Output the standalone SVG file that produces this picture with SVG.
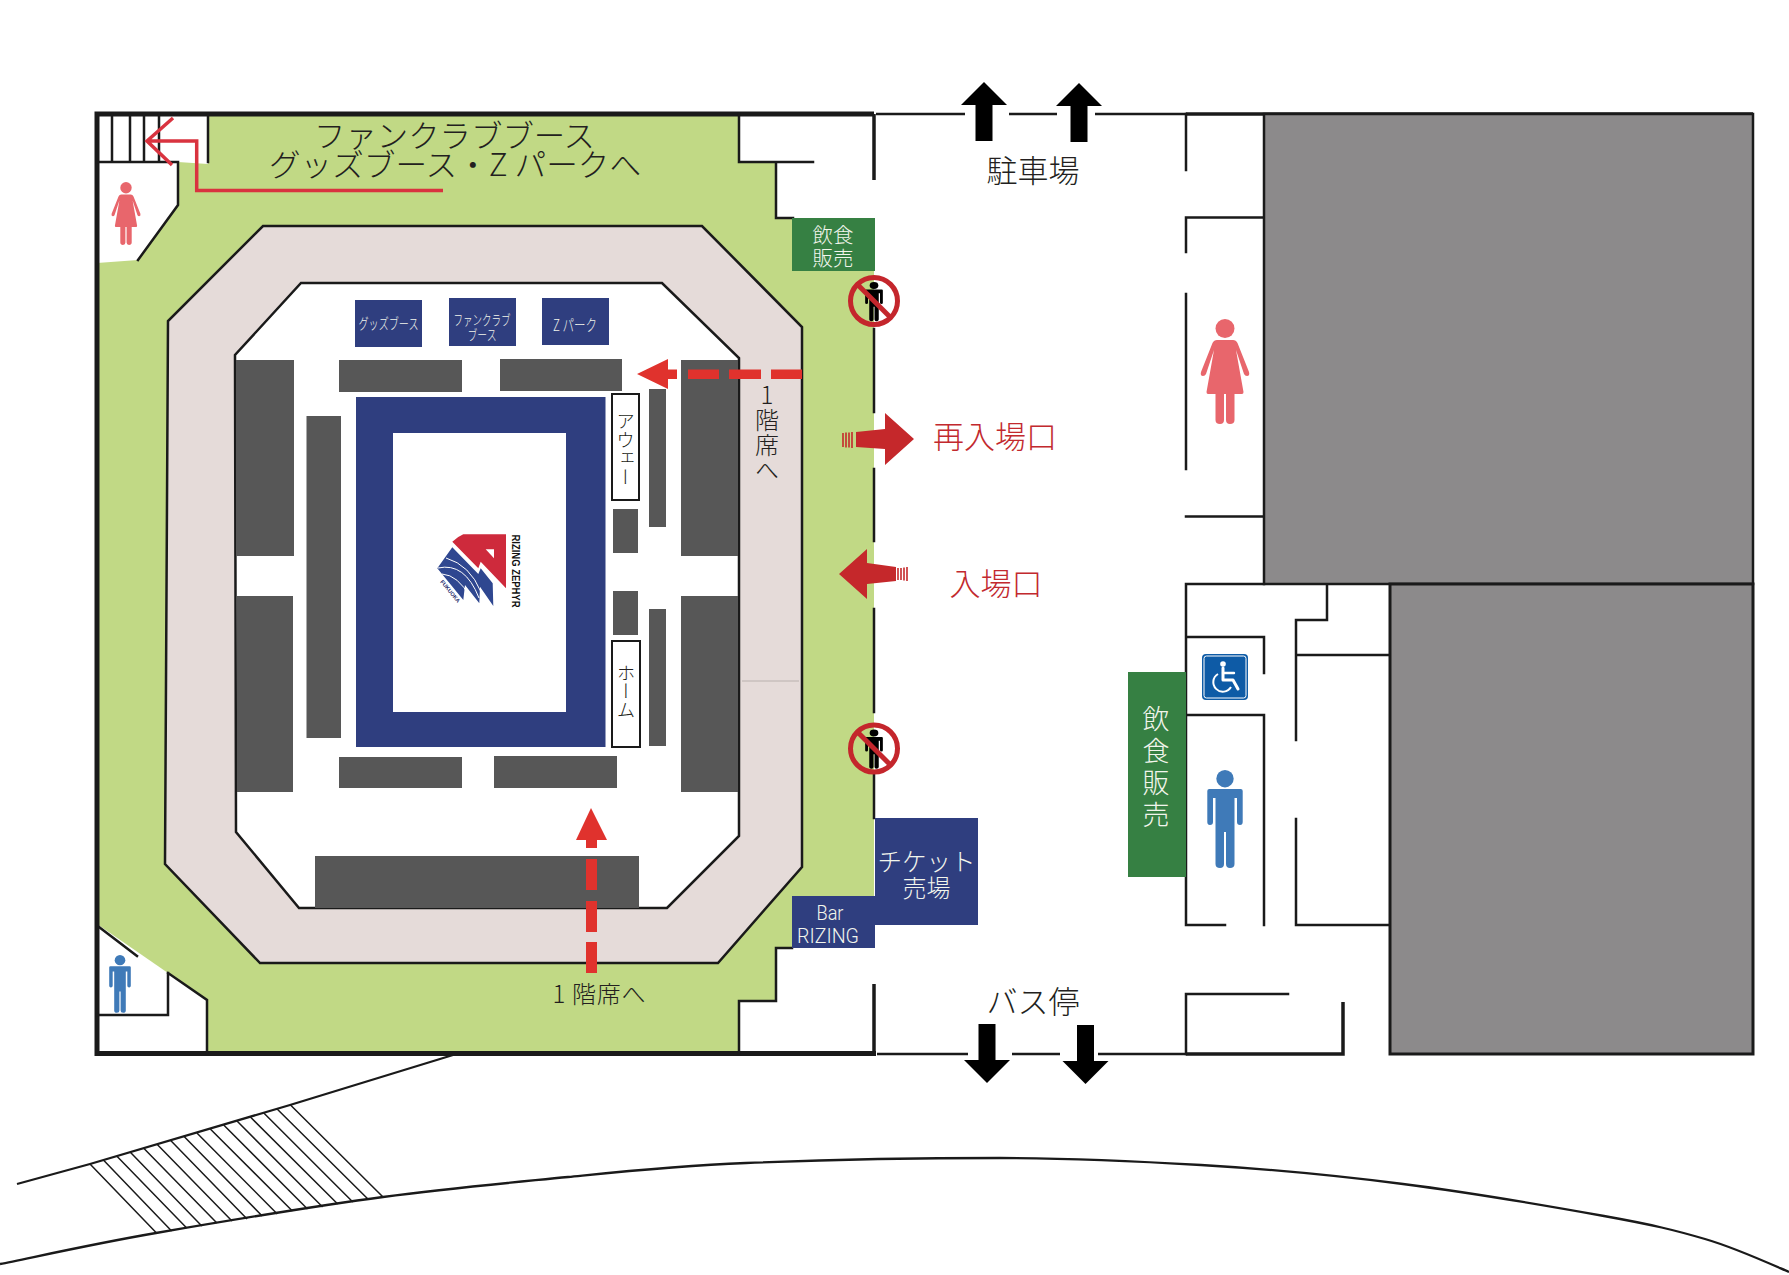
<svg xmlns="http://www.w3.org/2000/svg" width="1789" height="1275" viewBox="0 0 1789 1275">
<style>
text{font-family:"Noto Sans CJK JP","Liberation Sans",sans-serif;font-weight:300}
.t{fill:#231f20;text-anchor:middle}
.w{fill:#f2f5ec;text-anchor:middle}
.r{fill:#c2292e;text-anchor:middle;font-size:31px}
.v{writing-mode:vertical-rl;text-anchor:middle;fill:#231f20;font-size:18.5px}
.vu{writing-mode:vertical-rl;text-orientation:upright;text-anchor:middle}
.lat{font-family:Roboto,"Liberation Sans",sans-serif;font-weight:300}
.gr{fill:#575757}
.nv{fill:#2f3e7f}
.dg{fill:#368043}
.l{fill:none;stroke:#1a1a1a;stroke-width:2.5;stroke-linecap:square}
.b{fill:none;stroke:#1a1a1a;stroke-width:5}
.m{fill:none;stroke:#1a1a1a;stroke-width:3.5}
.th{fill:none;stroke:#1a1a1a;stroke-width:2.3}
.hatch{fill:none;stroke:#1a1a1a;stroke-width:1.5}
.red{fill:#e0322d}
.dr{fill:#c5282b}
.ka{fill:#000}
.rs{fill:none;stroke:#c5282b;stroke-width:1.6}
.ring{fill:none;stroke:#c4262c;stroke-width:5}
</style>
<defs>
<g id="man"><circle cx="0" cy="8.7" r="8.7"/><path d="M-15.7 19H15.7Q17.7 19 17.7 21V52Q17.7 55 15 55Q12 55 12 52V28H9.5V94Q9.5 98 5 98Q1 98 1 94V62H-1V94Q-1 98-5 98Q-9.500 98-9.500 94V28H-12V52Q-12 55-15 55Q-17.7 55-17.7 52V21Q-17.7 19-15.7 19Z"/></g>
<g id="woman"><circle cx="0" cy="9.5" r="9.5"/><path d="M-8 21H8Q11 21 12.500 24L24 53Q25 57 22 57Q20 57 19 55L11 31L18.500 73Q18.500 75 17 75H9.500V101Q9.500 105 5 105Q1 105 1 101V75H-1V101Q-1 105-5 105Q-9.500 105-9.500 101V75H-17Q-18.500 75-18.500 73L-11 31L-19 55Q-20 57-22 57Q-25 57-24 53L-12.500 24Q-11 21-8 21Z"/></g>
<g id="noentry"><use href="#man" transform="translate(0,-19) scale(.5,.4)" fill="#000"/><line x1="-17" y1="-17" x2="17" y2="17" stroke="#c4262c" stroke-width="5"/><circle class="ring" r="23.5"/></g>
<path id="uparrow" d="M0 0L23 23H8.5V59H-8.5V23H-23Z"/>
</defs>
<rect width="1789" height="1275" fill="#fff"/>

<g id="terrain">
<polyline class="th" points="453,1055 290,1105 90,1164 17,1184"/>
<path class="th" d="M0 1264C26 1259 92 1244 156 1233C220 1222 314 1206 383 1197C452 1188 508 1183 568 1177C628 1171 674 1166 746 1163C818 1160 924 1158 1000 1158C1076 1158 1134 1161 1201 1165C1268 1169 1336 1175.500 1403 1184C1470 1192.500 1554 1207 1604 1216C1654 1225 1674 1230 1705 1239C1736 1248 1775 1266 1789 1272"/>
<path class="hatch" d="M90 1164L156.500 1233M103.400 1160L171.600 1231M116.700 1156L186.700 1228M130.100 1152L201.800 1226M143.500 1148L216.900 1223M156.800 1144L232 1221M170.200 1140L247.100 1219M183.600 1136L262.200 1216M196.900 1133L277.300 1214M210.300 1129L292.400 1211M223.700 1125L307.500 1209M237 1121L322.600 1207M250.400 1117L337.700 1204M263.800 1113L352.800 1202M277.100 1109L367.900 1199M290.500 1105L383 1197"/>
</g>

<g id="grounds">
<rect x="97" y="114" width="777" height="939" fill="#c1d985"/>
<polygon points="97,114 208,114 208,164 178,162 178,205 138,260 97,263" fill="#fff"/>
<polygon points="97,924 168,973 207,1000 207,1053 97,1053" fill="#fff"/>
<polygon points="739,114 739,162 776,162 776,218 874,218 874,114" fill="#fff"/>
<polygon points="739,1053 739,1001 776,1001 776,948 874,948 874,1053" fill="#fff"/>
</g>

<g id="concourse">
<polygon points="263,226 702,226 802,327 802,867 718,963 260,963 165,864 168,321" fill="#e5dbd9" stroke="#1a1a1a" stroke-width="2.500"/>
<line x1="742" y1="681" x2="799" y2="681" stroke="#b9b1ae" stroke-width="1"/>
<polygon points="301,283 662,283 739,358 739,836 667,908 299,908 236,832 235,355" fill="#fff" stroke="#1a1a1a" stroke-width="2.500"/>
</g>

<g id="seating">
<rect class="gr" x="236" y="360" width="58" height="196"/>
<rect class="gr" x="237" y="596" width="56" height="196"/>
<rect class="gr" x="306.500" y="416" width="34.500" height="322"/>
<rect class="gr" x="339" y="360" width="123" height="32"/>
<rect class="gr" x="500" y="359" width="122" height="32"/>
<rect class="gr" x="339" y="757" width="123" height="31"/>
<rect class="gr" x="494" y="756" width="123" height="32"/>
<rect class="gr" x="315" y="856" width="324" height="52"/>
<rect class="gr" x="681" y="360" width="57" height="196"/>
<rect class="gr" x="681" y="596" width="57" height="196"/>
<rect class="gr" x="649" y="389" width="17" height="138"/>
<rect class="gr" x="649" y="609" width="17" height="137"/>
<rect class="gr" x="613" y="509" width="25" height="44"/>
<rect class="gr" x="613" y="591" width="25" height="44"/>
</g>

<g id="court">
<path class="nv" fill-rule="evenodd" d="M356 397H605.500V747H356ZM393 433V712H566V433Z"/>
</g>

<g id="logo">
<path d="M452.300 541.700Q458 536.500 463.300 534.300H506V588.300L480.700 561.700L478.300 568.300Z" fill="#ce2a3c"/>
<path d="M485.700 549.300H494V558.300Z" fill="#fff"/>
<path d="M452.300 547.300L478.300 574L480.700 568.300L492.700 583.300L493.300 606L480 586.700L479.300 603.300L465 585L463.300 600L437.300 568.300Z" fill="#2f4790"/>
<path d="M438 568Q465 562 479 598M442 574Q458 575 470 597M446 558Q470 565 481 592" fill="none" stroke="#fff" stroke-width="1"/>
<text transform="translate(440,582) rotate(50)" font-size="5.500" fill="#1d2a6b" style="font-family:'Liberation Sans',sans-serif;font-weight:700">FUKUOKA</text>
<text transform="translate(512,534.500) rotate(90)" font-size="11" textLength="73" lengthAdjust="spacingAndGlyphs" fill="#111" style="font-family:'Liberation Sans',sans-serif;font-weight:700">RIZING ZEPHYR</text>
</g>

<g id="away"><rect x="612" y="394" width="27" height="106" fill="#fff" stroke="#1a1a1a" stroke-width="2"/><text class="v" x="625.500" y="449">アウェー</text></g>
<g id="home"><rect x="612" y="641" width="28" height="106" fill="#fff" stroke="#1a1a1a" stroke-width="2"/><text class="v" x="626" y="691">ホーム</text></g>

<g id="booth-goods"><rect class="nv" x="355" y="300" width="67" height="47"/><text class="w" x="388.500" y="329" font-size="15" textLength="60" lengthAdjust="spacingAndGlyphs">グッズブース</text></g>
<g id="booth-fanclub"><rect class="nv" x="449" y="298" width="67" height="48"/><text class="w" x="482" y="325" font-size="14" textLength="57" lengthAdjust="spacingAndGlyphs">ファンクラブ</text><text class="w" x="482" y="340" font-size="14" textLength="29" lengthAdjust="spacingAndGlyphs">ブース</text></g>
<g id="booth-zpark"><rect class="nv" x="542" y="298" width="67" height="47"/><text class="w" x="575" y="331" font-size="16" textLength="44" lengthAdjust="spacingAndGlyphs">Z パーク</text></g>

<g id="walls">
<path class="b" d="M97 114V1053M94.500 114H874M94.500 1053.500H876"/>
<path class="m" d="M874 114V180M874 984V1053"/>
<path class="l" d="M112 114V162M130 114V162M144 114V162M159 114V162M97 162H178V205L138 260M208 114V162"/>
<path class="l" d="M739 114V162H813M776 162V218H793"/>
<path class="l" d="M874 329V412M874 469V541M874 609V712M874 775V818"/>
<path class="l" d="M776 948V1001H739V1053M776 948H792"/>
<path class="l" d="M99 927L137 956M168 973L207 1000V1053M168 973V1015H97"/>
<path class="th" d="M876 114H965M1009 114H1057M1095 114H1186M877 1054H968M1012 1054H1060M1098 1054H1186"/>
<path class="m" d="M1186 114H1753"/>
<path class="l" d="M1186 114V170M1186 217.500H1264M1186 217.500V252M1186 294V469M1186 516.500H1264"/>
<path class="l" d="M1186 584H1264M1186 584V925H1225M1186 637H1264V673M1186 715H1264V925"/>
<path class="l" d="M1327 584V620H1296V740M1296 655H1390M1296 819V925H1390"/>
<path class="l" d="M1288 994H1186V1054"/>
<path class="m" d="M1186 1054H1343V1002"/>
</g>

<g id="building-a"><rect x="1264" y="114" width="489" height="470" fill="#8c8a8b" stroke="#1a1a1a" stroke-width="2.500"/></g>
<g id="building-b"><rect x="1390" y="584" width="363" height="470" fill="#8c8a8b" stroke="#1a1a1a" stroke-width="3"/></g>

<g id="title"><text class="t" x="454.500" y="146.500" font-size="31" textLength="281" lengthAdjust="spacingAndGlyphs">ファンクラブブース</text><text class="t" x="455" y="176" font-size="31" textLength="372" lengthAdjust="spacingAndGlyphs">グッズブース・Z パークへ</text></g>

<text id="seat-label-right" class="t vu" x="767" y="433" font-size="24" letter-spacing="1">1階席へ</text>
<text id="seat-label-bottom" class="t" x="599" y="1003" font-size="24" textLength="93" lengthAdjust="spacing">1 階席へ</text>

<g id="food-small"><rect class="dg" x="792" y="218" width="83" height="53"/><text class="w" x="833" y="243" font-size="20.500">飲食</text><text class="w" x="833" y="266" font-size="20.500">販売</text></g>
<g id="food-large"><rect class="dg" x="1128" y="672" width="58" height="205"/><text class="w vu" x="1156" y="769" font-size="27" letter-spacing="5">飲食販売</text></g>
<g id="ticket"><rect class="nv" x="875" y="818" width="103" height="107"/><text class="w" x="926.500" y="871" font-size="24.500">チケット</text><text class="w" x="926.500" y="897" font-size="24">売場</text></g>
<g id="bar"><rect class="nv" x="792" y="896" width="83" height="52"/><text class="w lat" x="830" y="920" font-size="20" textLength="27" lengthAdjust="spacingAndGlyphs">Bar</text><text class="w lat" x="828" y="943" font-size="21" textLength="62" lengthAdjust="spacingAndGlyphs">RIZING</text></g>

<g id="icon-woman-small" fill="#e8666c"><use href="#woman" transform="translate(126,182) scale(.6)"/></g>
<g id="icon-man-small" fill="#3f7ab8"><use href="#man" transform="translate(120,955) scale(.61,.59)"/></g>
<g id="icon-woman-large" fill="#e8666c"><use href="#woman" transform="translate(1225,319)"/></g>
<g id="icon-man-large" fill="#3f7ab8"><use href="#man" transform="translate(1225,770)"/></g>
<g id="icon-wheelchair"><rect x="1202" y="654" width="46" height="46" rx="4" fill="#0e5ba6"/><rect x="1204" y="656" width="42" height="42" rx="2.500" fill="none" stroke="#fff" stroke-width="1"/><circle cx="1223" cy="664" r="2.800" fill="#fff"/><path d="M1223 668V680H1233L1238 689" fill="none" stroke="#fff" stroke-width="3" stroke-linecap="round" stroke-linejoin="round"/><path d="M1223 673H1234" fill="none" stroke="#fff" stroke-width="2.400" stroke-linecap="round"/><path d="M1218 674A9.500 9.500 0 1 0 1231 687" fill="none" stroke="#fff" stroke-width="2"/></g>

<g id="no-entry-1"><use href="#noentry" transform="translate(874,301)"/></g>
<g id="no-entry-2"><use href="#noentry" transform="translate(874,748.500)"/></g>

<g id="label-parking"><text class="t" x="1033" y="182" font-size="31">駐車場</text></g>
<g id="label-bus"><text class="t" x="1033" y="1013" font-size="31">バス停</text></g>
<g id="label-reentry"><text class="r" x="995" y="448">再入場口</text></g>
<g id="label-entry"><text class="r" x="996" y="595">入場口</text></g>

<g id="connectors">
<g id="route-stairs"><path d="M443 190.500H196.700V141H149M173 118L147 141L172 165" fill="none" stroke="#d9333f" stroke-width="3.500"/></g>
<g id="route-top"><path class="red" d="M637 374L668 359V369.500H677V379H668V389Z"/><path class="red" d="M688 369.500H719V379H688ZM729 369.500H761V379H729ZM771 369.500H802V379H771Z"/></g>
<g id="route-bottom"><path class="red" d="M591 808L607 840H597V848H586V840H576Z"/><path class="red" d="M586 859H597V890H586ZM586 901H597V932H586ZM586 942H597V973H586Z"/></g>
<g id="arrow-reentry"><path class="dr" d="M914 439L885 413V429L856 432V447L885 449V465Z"/><path class="rs" d="M843 433V447M846 432.500V447.500M849 432.500V447.500M852 432V448"/></g>
<g id="arrow-entry"><path class="dr" d="M839 574L867 549V563L896 567V581L867 584V599Z"/><path class="rs" d="M898 568V580M901 568V580M904 567.500V580.500M907 567V581"/></g>
<g class="ka">
<use href="#uparrow" transform="translate(984,82)"/>
<use href="#uparrow" transform="translate(1079,83)"/>
<use href="#uparrow" transform="translate(987,1083) scale(1,-1)"/>
<use href="#uparrow" transform="translate(1085.500,1084) scale(1,-1)"/>
</g>
</g>
</svg>
